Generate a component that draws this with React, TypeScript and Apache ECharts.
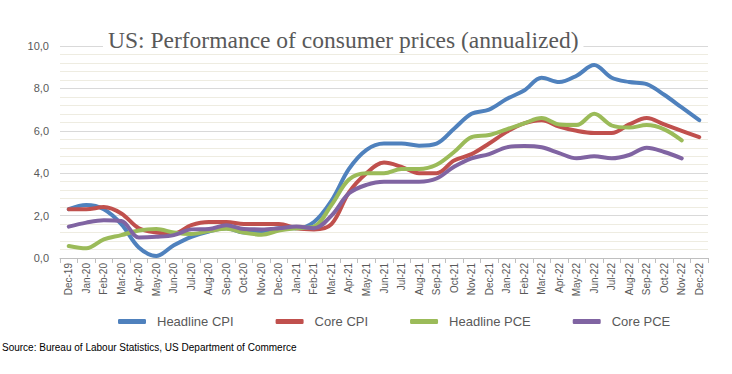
import React, { useEffect, useRef } from "react";
import * as echarts from "echarts";

const categories = [
  "Dec-19", "Jan-20", "Feb-20", "Mar-20", "Apr-20", "May-20", "Jun-20", "Jul-20", "Aug-20", "Sep-20", "Oct-20", "Nov-20", "Dec-20",
  "Jan-21", "Feb-21", "Mar-21", "Apr-21", "May-21", "Jun-21", "Jul-21", "Aug-21", "Sep-21", "Oct-21", "Nov-21", "Dec-21",
  "Jan-22", "Feb-22", "Mar-22", "Apr-22", "May-22", "Jun-22", "Jul-22", "Aug-22", "Sep-22", "Oct-22", "Nov-22", "Dec-22",
];

const headlineCPI = [
  2.3, 2.5, 2.3, 1.6, 0.5, 0.1, 0.6, 1.0, 1.25, 1.4, 1.2, 1.2, 1.4,
  1.4, 1.7, 2.7, 4.2, 5.1, 5.4, 5.4, 5.3, 5.4, 6.1, 6.8, 7.0,
  7.5, 7.9, 8.5, 8.3, 8.6, 9.1, 8.5, 8.3, 8.2, 7.7, 7.1, 6.5,
];
const coreCPI = [
  2.3, 2.3, 2.4, 2.1, 1.4, 1.2, 1.15, 1.55, 1.7, 1.7, 1.6, 1.6, 1.6,
  1.4, 1.35, 1.6, 3.1, 4.0, 4.5, 4.3, 4.0, 4.0, 4.6, 4.9, 5.4,
  5.95, 6.35, 6.5, 6.2, 6.0, 5.9, 5.9, 6.3, 6.6, 6.3, 6.0, 5.7,
];
const headlinePCE = [
  0.57, 0.46, 0.88, 1.08, 1.3, 1.37, 1.2, 1.13, 1.27, 1.38, 1.2, 1.1, 1.29,
  1.4, 1.48, 2.5, 3.7, 4.0, 4.0, 4.2, 4.2, 4.4, 5.0, 5.7, 5.8,
  6.07, 6.35, 6.6, 6.3, 6.27, 6.8, 6.25, 6.15, 6.27, 6.07, 5.55, null,
];
const corePCE = [
  1.48, 1.67, 1.78, 1.75, 0.97, 1.0, 1.08, 1.35, 1.37, 1.55, 1.37, 1.35, 1.4,
  1.48, 1.4, 2.0, 3.05, 3.45, 3.6, 3.6, 3.6, 3.75, 4.3, 4.7, 4.9,
  5.22, 5.28, 5.22, 4.95, 4.7, 4.8, 4.7, 4.86, 5.2, 5.0, 4.7, null,
];

const seriesNames = ["Headline CPI", "Core CPI", "Headline PCE", "Core PCE"];
const seriesColors = ["#4F81BD", "#C0504D", "#9BBB59", "#8064A2"];
const seriesData = [headlineCPI, coreCPI, headlinePCE, corePCE];

const titleText = "US: Performance of consumer prices (annualized)";
const sourceText = "Source: Bureau of Labour Statistics, US Department of Commerce";

export default function App() {
  const ref = useRef<HTMLDivElement>(null);

  useEffect(() => {
    if (!ref.current) return;
    const chart = echarts.init(ref.current, null, { renderer: "svg" });
    const labelFont = "Liberation Sans, Arial, sans-serif";
    chart.setOption({
      animation: false,
      backgroundColor: "#ffffff",
      title: {
        text: titleText,
        left: 103,
        top: 26,
        padding: [2, 5, 2, 5],
        backgroundColor: "#ffffff",
        textStyle: {
          fontFamily: "Liberation Serif, serif",
          fontSize: 23.5,
          fontWeight: "normal",
          color: "#595959",
        },
      },
      grid: { left: 60, right: 24, top: 46, bottom: 116 },
      legend: {
        data: seriesNames,
        left: 118,
        top: 315,
        padding: 0,
        itemWidth: 28,
        itemHeight: 5,
        itemGap: 42,
        icon: "roundRect",
        textStyle: { fontFamily: labelFont, fontSize: 13, color: "#595959", padding: [0, 0, 0, 6] },
      },
      xAxis: {
        type: "category",
        data: categories,
        boundaryGap: true,
        axisLine: { lineStyle: { color: "#BFBFBF", width: 1 } },
        axisTick: { show: true, interval: 0, length: 5, lineStyle: { color: "#BFBFBF" } },
        axisLabel: {
          interval: 0,
          rotate: 90,
          margin: 5,
          fontFamily: labelFont,
          fontSize: 10,
          color: "#595959",
        },
      },
      yAxis: {
        type: "value",
        min: 0,
        max: 10,
        interval: 2,
        axisLine: { show: false },
        axisTick: { show: false },
        axisLabel: {
          margin: 11,
          fontFamily: labelFont,
          fontSize: 11,
          color: "#595959",
          formatter: (v: number) => v.toFixed(1).replace(".", ","),
        },
        splitLine: { lineStyle: { color: "#D9D9D9", width: 1 } },
        minorTick: { show: false, splitNumber: 5 },
        minorSplitLine: { show: true, lineStyle: { color: "#EEECE1", width: 1 } },
      },
      series: seriesNames.map((name, i) => ({
        name,
        type: "line",
        data: seriesData[i],
        smooth: 0.35,
        showSymbol: false,
        symbol: "none",
        connectNulls: false,
        lineStyle: { color: seriesColors[i], width: 4, cap: "round", join: "round" },
        itemStyle: { color: seriesColors[i] },
        z: 2 + i,
      })),
      graphic: [
        {
          type: "text",
          x: 2,
          y: 342,
          style: {
            text: sourceText,
            fontFamily: labelFont,
            fontSize: 10,
            fill: "#000000",
          },
        },
      ],
    });
    return () => chart.dispose();
  }, []);

  return (
    <div style={{ position: "absolute", left: 0, top: 0 }}>
      <div ref={ref} style={{ width: 732, height: 374 }} />
    </div>
  );
}
